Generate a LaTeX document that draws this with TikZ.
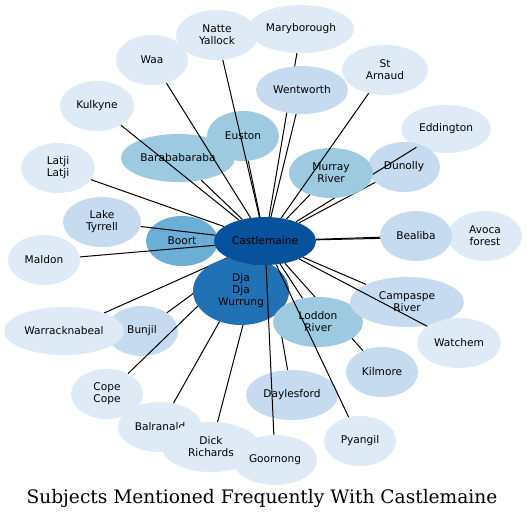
\documentclass[tikz,border=0pt]{standalone}
\usepackage{fontspec}
\newfontfamily\placefont{DejaVu Sans}
\newfontfamily\titlefont{DejaVu Serif}
\usetikzlibrary{shapes.geometric}
\definecolor{paleblue}{HTML}{DEEBF7}
\definecolor{lightblue}{HTML}{C6DBEF}
\definecolor{midblue}{HTML}{9ECAE1}
\definecolor{deepblue}{HTML}{6BAED6}
\definecolor{strongblue}{HTML}{2171B5}
\definecolor{darkblue}{HTML}{08519C}
\pgfdeclarelayer{front}
\pgfsetlayers{main,front}

\begin{document}
\begin{tikzpicture}[x=1pt,y=-1pt,
    place/.style={ellipse,inner sep=0pt,minimum width=72pt,minimum height=50pt,
      align=center,font=\placefont\fontsize{10.6}{12}\selectfont},
    link/.style={line width=1pt}]
    \useasboundingbox (0,0) rectangle (527,521);
    % hub, kept above everything
    \begin{pgfonlayer}{front}
    \node[place,fill=darkblue,minimum width=102pt,minimum height=48pt] (castlemaine) at (265,241) {Castlemaine};
    \end{pgfonlayer}
    % north
    \node[place,fill=midblue] (euston) at (243,136) {Euston};
    \draw[link] (castlemaine) -- (euston);
    \node[place,fill=midblue,minimum width=114pt,minimum height=48pt] (barababaraba) at (178,158) {Barababaraba};
    \draw[link] (castlemaine) -- (barababaraba);
    \node[place,fill=paleblue,minimum width=74pt] (kulkyne) at (97,106) {Kulkyne};
    \draw[link] (castlemaine) -- (kulkyne);
    \node[place,fill=paleblue] (waa) at (152,60) {Waa};
    \draw[link] (castlemaine) -- (waa);
    \node[place,fill=paleblue,minimum width=82pt] (natte) at (217,35) {Natte\\Yallock};
    \draw[link] (castlemaine) -- (natte);
    \node[place,fill=paleblue,minimum width=106pt,minimum height=48pt] (maryborough) at (301,29) {Maryborough};
    \draw[link] (castlemaine) -- (maryborough);
    \node[place,fill=lightblue,minimum width=92pt,minimum height=48pt] (wentworth) at (302,90) {Wentworth};
    \draw[link] (castlemaine) -- (wentworth);
    % north-east
    \node[place,fill=paleblue,minimum width=86pt] (starnaud) at (385,70) {St\\Arnaud};
    \node[place,fill=paleblue,minimum width=90pt,minimum height=48pt] (eddington) at (446,129) {Eddington};
    \node[place,fill=lightblue] (dunolly) at (404,167) {Dunolly};
    \draw[link] (castlemaine) -- (dunolly);
    \draw[link] (castlemaine) -- (eddington);
    \node[place,fill=midblue,minimum width=84pt] (murray) at (331,173) {Murray\\River};
    \draw[link] (castlemaine) -- (murray);
    \draw[link] (castlemaine) -- (starnaud);
    % west
    \node[place,fill=paleblue,minimum width=74pt] (latji) at (58,168) {Latji\\Latji};
    \draw[link] (castlemaine) -- (latji);
    \node[place,fill=deepblue] (boort) at (182,241) {Boort};
    \draw[link] (castlemaine) -- (boort);
    \node[place,fill=lightblue,minimum width=78pt] (tyrrell) at (102,222) {Lake\\Tyrrell};
    \draw[link] (castlemaine) -- (tyrrell);
    \node[place,fill=paleblue] (maldon) at (44,260) {Maldon};
    \draw[link] (castlemaine) -- (maldon);
    % east
    \node[place,fill=paleblue,minimum width=74pt] (avoca) at (485,236) {Avoca\\forest};
    \draw[link] (castlemaine) -- (avoca);
    \node[place,fill=lightblue] (bealiba) at (416,236) {Bealiba};
    \draw[link] (castlemaine) -- (bealiba);
    % south
    \node[place,fill=lightblue] (bunjil) at (142,331) {Bunjil};
    \draw[link] (castlemaine) -- (bunjil);
    \node[place,fill=paleblue,minimum width=120pt,minimum height=48pt] (warracknabeal) at (64,331) {Warracknabeal};
    \draw[link] (castlemaine) -- (warracknabeal);
    \node[place,fill=paleblue] (cope) at (107,394) {Cope\\Cope};
    \draw[link] (castlemaine) -- (cope);
    \node[place,fill=paleblue,minimum width=84pt] (balranald) at (160,427) {Balranald};
    \draw[link] (castlemaine) -- (balranald);
    \node[place,fill=paleblue,minimum width=98pt] (dick) at (211,447) {Dick\\Richards};
    \draw[link] (castlemaine) -- (dick);
    \node[place,fill=lightblue,minimum width=92pt] (daylesford) at (292,395) {Daylesford};
    \draw[link] (castlemaine) -- (daylesford);
    \node[place,fill=lightblue] (kilmore) at (382,372) {Kilmore};
    \draw[link] (castlemaine) -- (kilmore);
    \node[place,fill=strongblue,minimum width=96pt,minimum height=68pt] (dja) at (241,291) {Dja\\Dja\\Wurrung};
    \draw[link] (castlemaine) -- (dja);
    \node[place,fill=midblue,minimum width=90pt] (loddon) at (318,322) {Loddon\\River};
    \draw[link] (castlemaine) -- (loddon);
    \node[place,fill=paleblue] (pyangil) at (360,441) {Pyangil};
    \draw[link] (castlemaine) -- (pyangil);
    \node[place,fill=paleblue,minimum width=84pt] (goornong) at (275,460) {Goornong};
    \draw[link] (castlemaine) -- (goornong);
    \node[place,fill=lightblue,minimum width=114pt] (campaspe) at (407,302) {Campaspe\\River};
    \draw[link] (castlemaine) -- (campaspe);
    \node[place,fill=paleblue,minimum width=84pt] (watchem) at (459,343) {Watchem};
    \draw[link] (castlemaine) -- (watchem);
    % caption
    \node[font=\titlefont\fontsize{18.6}{20}\selectfont] (caption) at (262,498) {Subjects Mentioned Frequently With Castlemaine};
\end{tikzpicture}
\end{document}
